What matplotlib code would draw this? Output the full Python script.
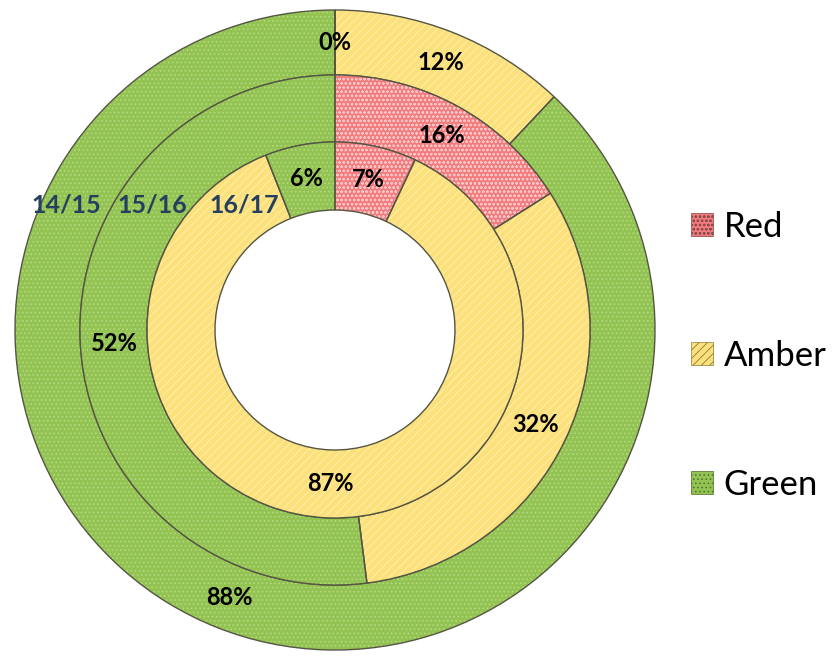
import numpy as np
import matplotlib.pyplot as plt
from matplotlib.patches import Patch

# data
categories = ["Red", "Amber", "Green"]
years = ["14/15", "15/16", "16/17"]
vals_1415 = [0, 12, 88]
vals_1516 = [16, 32, 52]
vals_1617 = [7, 87, 6]

plt.rcParams['font.family'] = ['Lato', 'DejaVu Sans']
plt.rcParams['hatch.linewidth'] = 0.6

face = ["#F27B7D", "#FCE07C", "#93C353"]
hatch_col = ["#FBC5C5", "#FFF1B0", "#B8DB85"]
edge = ["#8A4A4A", "#8C7A3A", "#4F6B2A"]
hatches = ["oooo", "////", "...."]

fig = plt.figure(figsize=(8.36, 6.59), dpi=100)
# centre at (335, 330) px, outer radius 320 px
ax = fig.add_axes([15/836, 9/659, 640/836, 640/659])
ax.set_xlim(-1, 1)
ax.set_ylim(-1, 1)
ax.set_aspect('equal')
ax.axis('off')

# (values, outer radius, width)
rings = [
	(vals_1415, 1.0, 0.203),
	(vals_1516, 0.797, 0.2095),
	(vals_1617, 0.5875, 0.2125),
]

for vals, r, w in rings:
	# fill + texture
	wedges, _ = ax.pie(vals, radius=r, startangle=90, counterclock=False,
		colors=face, wedgeprops=dict(width=w, linewidth=0))
	for wd, hc, h in zip(wedges, hatch_col, hatches):
		wd.set_hatch(h)
		wd.set_edgecolor(hc)
		wd.set_linewidth(0)
	# outlines + labels
	mid = (r - w/2) / r
	wedges, _, autotexts = ax.pie(vals, radius=r, startangle=90, counterclock=False,
		colors=["none"]*3, autopct=lambda p: f"{p:.0f}%", pctdistance=mid,
		wedgeprops=dict(width=w, linewidth=1.0, edgecolor="#555544", facecolor="none"))
	for t in autotexts:
		t.set_fontsize(17)
		t.set_fontweight('bold')
		t.set_color('black')

ax.set_xlim(-1, 1)
ax.set_ylim(-1, 1)

# ring labels
label_x = [-0.84, -0.57, -0.285]
for yr, x in zip(years, label_x):
	ax.text(x, 0.39, yr, ha='center', va='center', fontsize=18,
		fontweight='bold', color='#243F60')

handles = [Patch(facecolor=f, edgecolor=e, hatch=h, linewidth=0.5)
	for f, e, h in zip(face, edge, hatches)]
fig.legend(handles, categories, loc='center left', bbox_to_anchor=(0.826, 0.46),
	frameon=False, fontsize=25, handlelength=0.65, handleheight=0.65,
	handletextpad=0.3, labelspacing=2.8, borderaxespad=0, borderpad=0)

fig.savefig("out.png", dpi=100)
